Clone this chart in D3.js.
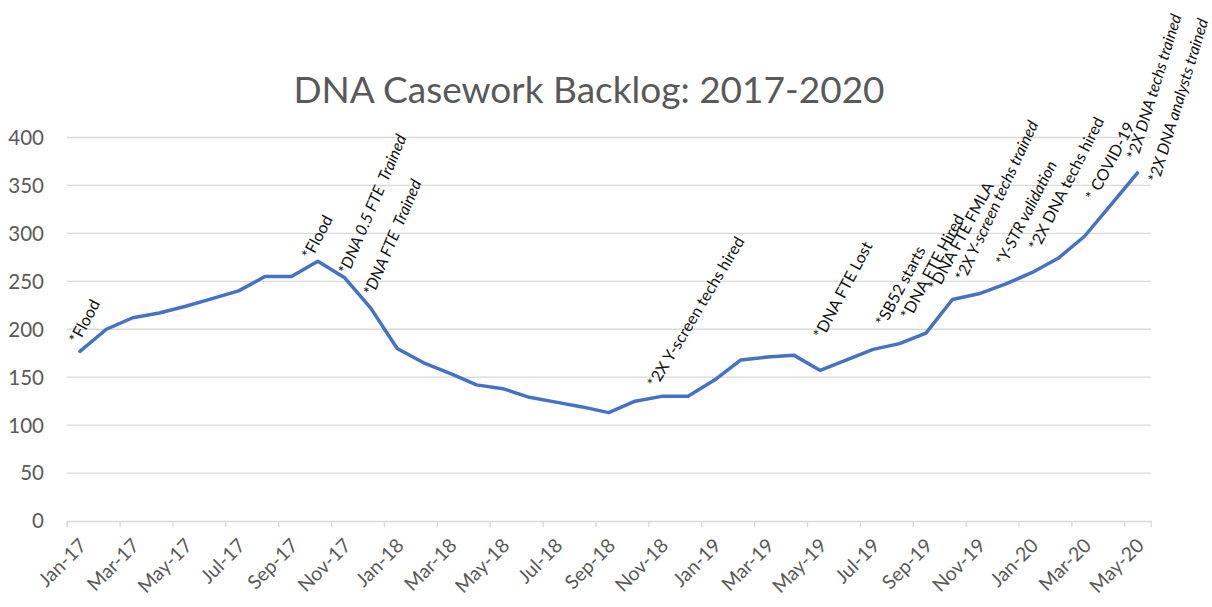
<!DOCTYPE html>
<html>
<head>
<meta charset="utf-8">
<script src="https://cdn.jsdelivr.net/npm/d3@7"></script>
<style>
  body { margin: 0; background: #fff; }
  svg { display: block; font-family: Lato, "Open Sans", sans-serif; }
</style>
</head>
<body>
<svg id="chart" width="1212" height="607"></svg>
<script>
const months = ['Jan-17','Feb-17','Mar-17','Apr-17','May-17','Jun-17','Jul-17','Aug-17','Sep-17','Oct-17','Nov-17','Dec-17',
  'Jan-18','Feb-18','Mar-18','Apr-18','May-18','Jun-18','Jul-18','Aug-18','Sep-18','Oct-18','Nov-18','Dec-18',
  'Jan-19','Feb-19','Mar-19','Apr-19','May-19','Jun-19','Jul-19','Aug-19','Sep-19','Oct-19','Nov-19','Dec-19',
  'Jan-20','Feb-20','Mar-20','Apr-20','May-20']
const backlog = [177, 200, 212, 217, 224, 232, 240, 255, 255, 271, 254, 222,
  180, 165, 154, 142, 138, 129, 124, 119, 113, 125, 130, 130,
  147, 168, 171, 173, 157, 168, 179, 185, 196, 231, 237, 247,
  259, 274, 297, 330, 363]
const yTicks = [0, 50, 100, 150, 200, 250, 300, 350, 400]

// notes: position in month units (axis boundary units) and backlog units
const noteText = ['*Flood', '*Flood', '*DNA 0.5 FTE\u00a0 Trained', '*DNA FTE\u00a0 Trained', '*2X Y-screen techs hired',
  '*DNA FTE Lost', '*SB52 starts', '*DNA FTE Hired', '*DNA FTE FMLA', '*2X Y-screen techs trained',
  '*Y-STR validation', '*2X DNA techs hired', '* COVID-19', '*2X DNA techs trained', '*2X DNA analysts trained']
const noteAt = [0.45, 9.25, 10.65, 11.6, 22.3, 28.6, 30.95, 31.9, 32.95, 33.97, 35.49, 36.74, 38.89, 40.5, 41.3]
const noteVal = [184, 272, 256, 234, 138, 189, 202, 209, 239, 249, 265, 281, 333, 376, 352]
const noteAngle = [-62, -62, -67, -67, -59, -62, -62, -62, -62, -65, -63, -63, -62, -73, -73]
const noteItalic = [false, false, true, true, false, false, false, false, false, true, true, false, false, true, true]

const svg = d3.select('#chart')
const grey = '#595959'

const x = d3.scaleLinear().domain([0, months.length]).range([66.7, 1150.7])
const y = d3.scaleLinear().domain([0, 400]).range([521, 137.5])

// gridlines
svg.append('g')
  .selectAll('line')
  .data(yTicks.filter(d => d > 0))
  .join('line')
    .attr('x1', x(0)).attr('x2', x(months.length))
    .attr('y1', d => y(d)).attr('y2', d => y(d))
    .attr('stroke', '#d9d9d9').attr('stroke-width', 1.3)

// y labels
svg.append('g')
  .selectAll('text')
  .data(yTicks)
  .join('text')
    .attr('x', 44).attr('y', d => y(d))
    .attr('dy', '0.36em')
    .attr('text-anchor', 'end')
    .attr('fill', grey)
    .attr('font-size', 20.5)
    .text(d => d)

// x axis
const xAxis = d3.axisBottom(x)
  .tickValues(d3.range(0, months.length, 2))
  .tickSize(6)
  .tickFormat('')
const gx = svg.append('g')
  .attr('transform', `translate(0,${y(0)})`)
  .call(xAxis)
gx.select('.domain').attr('stroke', '#d9d9d9').attr('stroke-width', 1.3)
gx.selectAll('.tick line').attr('stroke', '#d9d9d9').attr('stroke-width', 1.3)

svg.append('g')
  .selectAll('text')
  .data(months.filter((m, i) => i % 2 === 0))
  .join('text')
    .attr('transform', (d, i) => `translate(${x(i * 2 + 0.5) + 3},${y(0) + 21}) rotate(-45)`)
    .attr('text-anchor', 'end')
    .attr('dy', '0.35em')
    .attr('fill', grey)
    .attr('font-size', 19.5)
    .text(d => d)

// title
svg.append('text')
  .attr('x', 589).attr('y', 103)
  .attr('text-anchor', 'middle')
  .attr('fill', grey)
  .attr('font-size', 37)
  .text('DNA Casework Backlog: 2017-2020')

// line
const line = d3.line()
  .x((d, i) => x(i + 0.5))
  .y(d => y(d))
svg.append('path')
  .datum(backlog)
  .attr('d', line)
  .attr('fill', 'none')
  .attr('stroke', '#4472C4')
  .attr('stroke-width', 3.5)
  .attr('stroke-linejoin', 'round')
  .attr('stroke-linecap', 'round')

// notes
svg.append('g')
  .selectAll('text')
  .data(noteText)
  .join('text')
    .attr('transform', (d, i) => `translate(${x(noteAt[i])},${y(noteVal[i])}) rotate(${noteAngle[i]})`)
    .attr('font-size', 16)
    .attr('font-style', (d, i) => noteItalic[i] ? 'italic' : 'normal')
    .attr('fill', '#111')
    .text(d => d)
</script>
</body>
</html>
